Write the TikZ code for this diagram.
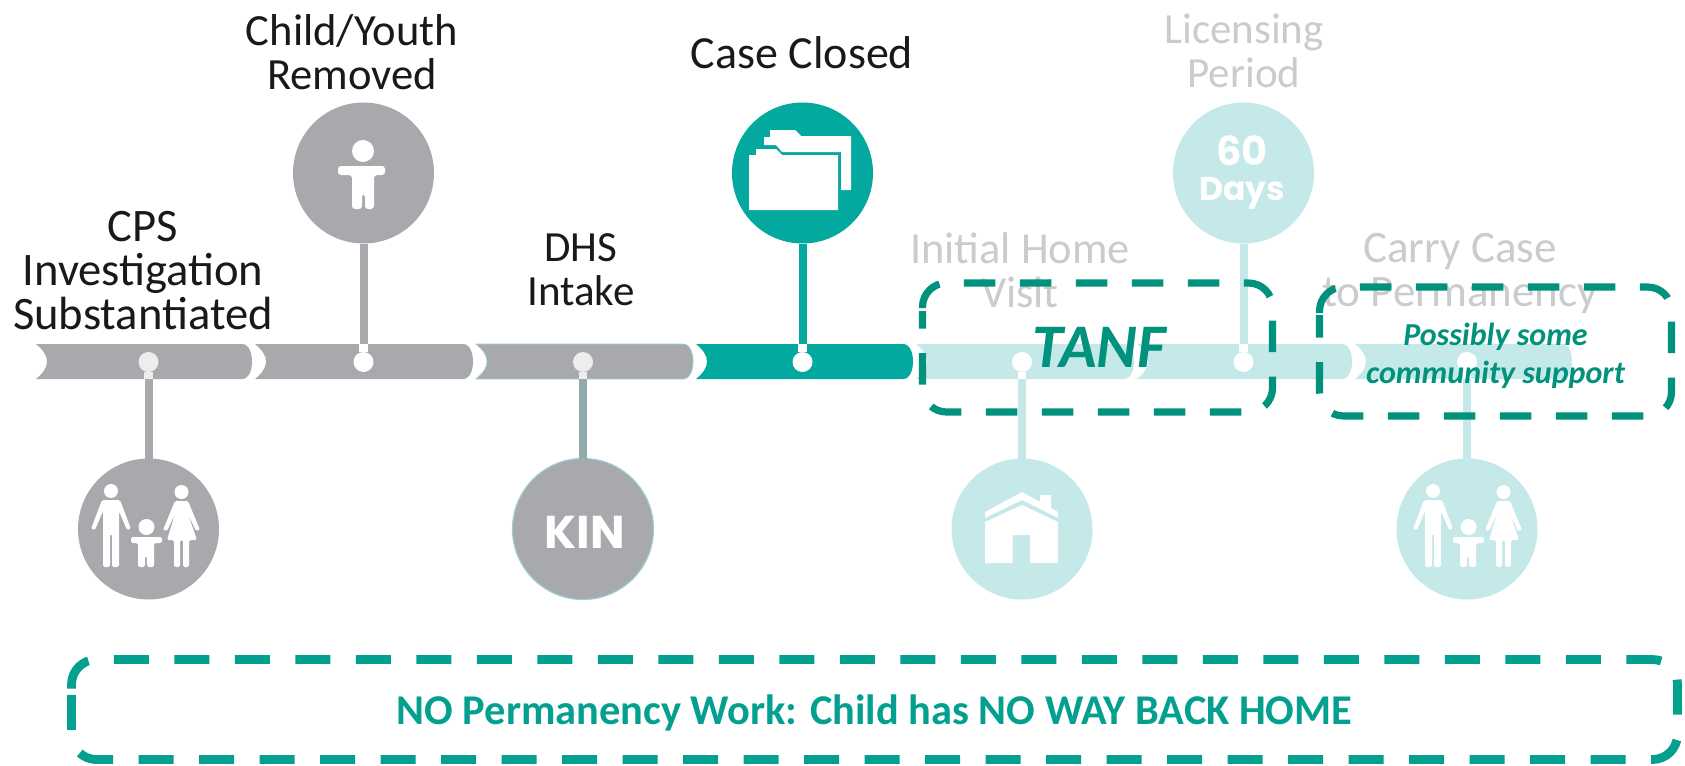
\documentclass[tikz,border=0pt]{standalone}
\usepackage{fontspec}
\setmainfont{Carlito}
\newfontfamily\iconfont{Poppins}

\definecolor{barGray}{HTML}{A7A9AC}
\definecolor{barTeal}{HTML}{03A89E}
\definecolor{barLight}{HTML}{C5E8E8}
\definecolor{kinStem}{HTML}{93ABAB}
\definecolor{kinEdge}{HTML}{9CCFCF}
\definecolor{fadeText}{HTML}{C9CBCC}
\definecolor{darkDash}{HTML}{00927C}
\definecolor{lowDash}{HTML}{03A08F}

\newcommand{\barpiece}[3]{
    \fill[#3] (#1,344) -- ({#2-10},344) .. controls ({#2-3},344) and (#2,353) .. (#2,361.5)
        .. controls (#2,370) and ({#2-3},379) .. ({#2-10},379) -- (#1,379)
        .. controls ({#1+7},373) and ({#1+11},368) .. ({#1+11},361.5)
        .. controls ({#1+11},355) and ({#1+7},350) .. (#1,344) -- cycle;
}

\tikzset{
    bigcircle/.style={shape=circle,minimum size=70.5pt,inner sep=0pt,outer sep=0pt,fill=#1},
    dotnode/.style={shape=circle,minimum size=10pt,inner sep=0pt,outer sep=0pt,fill=#1},
    lab/.style={text=black!90,align=center,inner sep=0pt,font=\fontsize{#1}{22}\selectfont},
    fadelab/.style={lab=#1,text=fadeText},
    stemline/.style={line width=4pt,draw=#1},
    tabline/.style={line width=4.4pt,draw=white},
    boxtext/.style={inner sep=0pt,align=center,text=darkDash},
    boxspot/.style={shape=rectangle,outer sep=0pt,inner sep=0pt},
    dashframe/.style={draw=darkDash,line width=3.6pt,rounded corners=12pt,
        dash pattern=on 15.75pt off 12.25pt},
    family/.pic={
        \fill[white] (-37,-38) circle (7) (33.5,-37) circle (7) (-1.5,-2) circle (8);
        \fill[white,rounded corners=0.8pt] (-46,-29) -- (-28,-29) -- (-17,0) -- (-21,1) -- (-29,-18)
            -- (-29,38) -- (-36,38) -- (-36,5) -- (-38,5) -- (-38,38) -- (-45,38) -- (-45,-18)
            -- (-53,1) -- (-57,0) -- cycle;
        \fill[white,rounded corners=0.8pt] (27,-28) -- (40,-28) -- (52,1) -- (48,2) -- (40,-15)
            -- (49,11) -- (41,11) -- (41,38) -- (35,38) -- (35,11) -- (32,11) -- (32,38) -- (26,38)
            -- (26,11) -- (19,11) -- (27,-15) -- (19,2) -- (15,1) -- cycle;
        \fill[white,rounded corners=0.8pt] (-17,8) -- (14,8) -- (14,14) -- (6,14) -- (6,38) -- (-1,38)
            -- (-1,27) -- (-3,27) -- (-3,38) -- (-10,38) -- (-10,14) -- (-17,14) -- cycle;
    },
    kid/.pic={
        \fill[white] (0,-22) circle (11);
        \fill[white,rounded corners=1.5pt] (-25,-7) -- (22,-7) -- (22,2) -- (11,2) -- (11,36) -- (2,36)
            -- (2,21) -- (-1,21) -- (-1,36) -- (-11,36) -- (-11,2) -- (-25,2) -- cycle;
    },
    folders/.pic={
        \fill[white] (-32,-43) -- (-7,-43) -- (-1,-37) -- (49,-37) -- (49,17) -- (39,17) -- (39,-21)
            -- (-20,-21) -- (-26,-28) -- (-38,-28) -- (-38,-36) -- (-32,-36) -- cycle;
        \fill[white] (-53,-18) -- (-46,-18) -- (-46,-24) -- (-26,-24) -- (-20,-18) -- (36,-18)
            -- (36,37) -- (-53,37) -- cycle;
    },
    housepic/.pic={
        \fill[white] (-37,-17) -- (0,-37) -- (18,-27) -- (18,-34) -- (29,-34) -- (29,-21) -- (36,-17)
            -- (36,-11) -- (0,-29) -- (-37,-11) -- cycle;
        \fill[white] (-37,-7) -- (0,-24) -- (36,-7) -- (36,34) -- (8,34) -- (8,6) -- (-9.5,6)
            -- (-9.5,34) -- (-37,34) -- cycle;
    },
}

\begin{document}
\begin{tikzpicture}[x=0.5pt,y=-0.5pt]
    \useasboundingbox (0,0) rectangle (1685,765);

    % timeline
    \barpiece{36}{252}{barGray}
    \barpiece{255}{473}{barGray}
    \barpiece{476}{693}{fill=barGray,draw=kinEdge,line width=0.4pt}
    \barpiece{696}{913}{barTeal}
    \barpiece{916}{1134}{barLight}
    \barpiece{1137}{1352}{barLight}
    \barpiece{1355}{1572}{barLight}

    \node[bigcircle=barGray] (FAM) at (148.5,529) {};
    \node[bigcircle=barGray] (REM) at (363.5,173) {};
    \node[bigcircle=barGray,draw=kinEdge,line width=0.6pt] (KIN) at (583,529) {};
    \node[bigcircle=barTeal] (CLO) at (802.5,173) {};
    \node[bigcircle=barLight] (HOM) at (1022,529) {};
    \node[bigcircle=barLight] (LIC) at (1243.5,173) {};
    \node[bigcircle=barLight] (CAR) at (1467,529) {};

    \node[dotnode=black!7] (A) at (148.5,362) {};
    \node[dotnode=white] (B) at (363.5,362) {};
    \node[dotnode=black!7] (C) at (583,362) {};
    \node[dotnode=white] (D) at (802.5,362) {};
    \node[dotnode=white] (E) at (1022,362) {};
    \node[dotnode=white] (F) at (1243.5,362) {};
    \node[dotnode=white] (G) at (1467,362) {};

    \coordinate (A1) at (148.5,379);
    \coordinate (B1) at (363.5,344);
    \coordinate (C1) at (583,379);
    \coordinate (D1) at (802.5,344);
    \coordinate (E1) at (1022,379);
    \coordinate (F1) at (1243.5,344);
    \coordinate (G1) at (1467,379);

    \path (FAM) edge [stemline=barGray] (A1);
    \path (REM) edge [stemline=barGray] (B1);
    \path (KIN) edge [stemline=kinStem] (C1);
    \path (CLO) edge [stemline=barTeal] (D1);
    \path (HOM) edge [stemline=barLight] (E1);
    \path (LIC) edge [stemline=barLight] (F1);
    \path (CAR) edge [stemline=barLight] (G1);
    \path (A) edge [tabline,draw=black!7] (A1);
    \path (B) edge [tabline] (B1);
    \path (C) edge [tabline,draw=black!7] (C1);
    \path (D) edge [tabline] (D1);
    \path (E) edge [tabline] (E1);
    \path (F) edge [tabline] (F1);
    \path (G) edge [tabline] (G1);

    % icons
    \pic at (148,529) {family};
    \pic at (363,173) {kid};
    \pic at (802,173) {folders};
    \pic at (1022,529) {housepic};
    \pic at (1470,529) {family};
    \node[text=white,inner sep=0pt,font=\iconfont\bfseries\fontsize{23}{23}\selectfont] (KINt) at (584.5,532) {KIN};
    \node[text=white,inner sep=0pt,font=\iconfont\bfseries\fontsize{20}{20}\selectfont] (SIX) at (1242,151) {60};
    \node[text=white,inner sep=0pt,font=\iconfont\bfseries\fontsize{16.5}{16.5}\selectfont] (DAY) at (1242,193) {Days};

    % labels
    \node[lab=22.3] (REMt) at (352,52) {Child/Youth\\Removed};
    \node[lab=23.3] (FAMt) at (143,271) {CPS\\Investigation\\Substantiated};
    \node[lab=21.5] (KINl) at (581,270) {DHS\\Intake};
    \node[lab=23] (CLOt) at (802,53) {Case Closed};
    \node[fadelab=21.5] (LICt) at (1244,51) {Licensing\\Period};
    \node[fadelab=22.2] (HOMt) at (1020,270) {Initial Home\\Visit};
    \node[fadelab=22.5] (CARt) at (1460,274) {Carry Case\\to Permanency};

    % dashed boxes
    \node[boxspot,minimum width=175pt,minimum height=64.5pt] (TANFb) at (1097.5,347.5) {};
    \node[boxspot,minimum width=176pt,minimum height=64.5pt] (SUPb) at (1495.5,351.5) {};
    \node[boxspot,minimum width=803pt,minimum height=50pt] (WORKb) at (874.5,709.5) {};
    \draw[dashframe,dash phase=26.5pt] ([yshift=-14pt]TANFb.north west) -- (TANFb.north west) -- (TANFb.north east)
        -- (TANFb.south east) -- (TANFb.south west) -- ([yshift=-14pt]TANFb.north west);
    \draw[dashframe,dash phase=27pt] ([yshift=-14pt]SUPb.north west) -- (SUPb.north west) -- (SUPb.north east)
        -- (SUPb.south east) -- (SUPb.south west) -- ([yshift=-14pt]SUPb.north west);
    \draw[dashframe,draw=lowDash,line width=4.4pt,rounded corners=12.5pt,dash pattern=on 17.5pt off 12.75pt]
        ([yshift=-14.5pt]WORKb.north west) -- (WORKb.north west) -- (WORKb.north east)
        -- (WORKb.south east) -- (WORKb.south west) -- ([yshift=-14.5pt]WORKb.north west);
    \node[boxtext,font=\bfseries\itshape\fontsize{31}{31}\selectfont] (TANF) at (1099.5,347.5) {TANF};
    \node[boxtext,font=\bfseries\itshape\fontsize{16}{19}\selectfont] (SUP) at (1495.5,355.5) {Possibly some\\community support};
    \node[boxtext,text=lowDash,font=\bfseries\fontsize{21.2}{21.2}\selectfont] (WORK) at (874.5,712.5) {NO Permanency Work: Child has NO WAY BACK HOME};
\end{tikzpicture}
\end{document}
